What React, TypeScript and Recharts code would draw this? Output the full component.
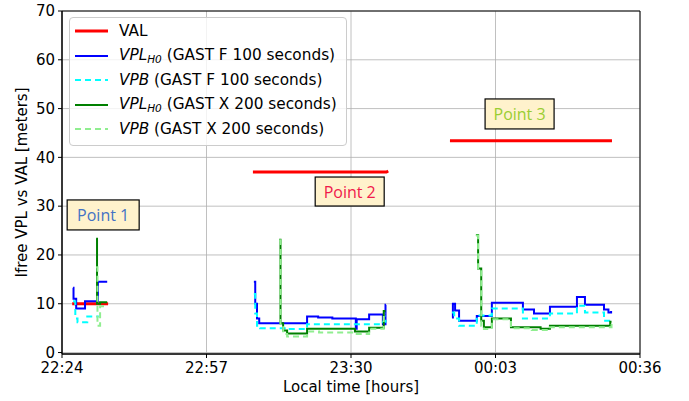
import React from 'react';
import { ComposedChart, Line, XAxis, YAxis, CartesianGrid, ReferenceArea, ReferenceDot } from 'recharts';

// time in minutes after 22:24
const valSeries = [
  { t: 2.33, v: 10 }, { t: 10.53, v: 10 }, { t: 20, v: null },
  { t: 43.6, v: 37 }, { t: 74.1, v: 37 }, { t: 74.5, v: 37.2 }, { t: 80, v: null },
  { t: 88.6, v: 43.4 }, { t: 125.6, v: 43.4 },
];
const vplF = [
  { t: 2.53, v: 13.3 }, { t: 2.63, v: 11 }, { t: 3.24, v: 9 }, { t: 5.26, v: 10.5 }, { t: 8.2, v: 14.5 }, { t: 10.32, v: 14.5 }, { t: 20, v: null },
  { t: 43.82, v: 14.5 }, { t: 44.13, v: 10 }, { t: 44.53, v: 7 }, { t: 45.04, v: 6 }, { t: 51.62, v: 6 }, { t: 55.97, v: 7.4 }, { t: 58.5, v: 7.2 }, { t: 61.74, v: 7.0 }, { t: 67.1, v: 4.9 }, { t: 67.3, v: 6.8 }, { t: 70.14, v: 7.8 }, { t: 73.28, v: 5.8 }, { t: 73.88, v: 9.8 }, { t: 73.98, v: 9.8 }, { t: 80, v: null },
  { t: 89.06, v: 7.2 }, { t: 89.27, v: 10 }, { t: 89.77, v: 8.6 }, { t: 90.68, v: 6.5 }, { t: 94.73, v: 7.5 }, { t: 98.17, v: 10.2 }, { t: 105.26, v: 8.8 }, { t: 107.79, v: 8.0 }, { t: 111.43, v: 9.4 }, { t: 117.6, v: 11.4 }, { t: 119.43, v: 9.8 }, { t: 123.78, v: 8.8 }, { t: 124.79, v: 8.2 }, { t: 125.4, v: 8.5 },
];
const vpbF = [
  { t: 2.53, v: 10.5 }, { t: 3.04, v: 7 }, { t: 3.54, v: 6.2 }, { t: 5.77, v: 7.4 }, { t: 8.4, v: 7.4 }, { t: 20, v: null },
  { t: 43.82, v: 12 }, { t: 44.13, v: 8 }, { t: 44.53, v: 5.5 }, { t: 45.24, v: 5 }, { t: 51.62, v: 4.8 }, { t: 55.97, v: 5.8 }, { t: 73.28, v: 6.3 }, { t: 73.88, v: 7.5 }, { t: 73.98, v: 7.5 }, { t: 80, v: null },
  { t: 89.06, v: 8.2 }, { t: 89.57, v: 7 }, { t: 90.68, v: 5.5 }, { t: 94.73, v: 7.6 }, { t: 98.17, v: 9 }, { t: 105.26, v: 7.0 }, { t: 111.43, v: 8.0 }, { t: 117.6, v: 9.6 }, { t: 119.43, v: 8.2 }, { t: 123.78, v: 6.5 }, { t: 125.4, v: 6.5 },
];
const vplX = [
  { t: 7.79, v: 23.3 }, { t: 8.0, v: 10 }, { t: 8.7, v: 10.3 }, { t: 10.32, v: 10.3 }, { t: 20, v: null },
  { t: 49.59, v: 23.1 }, { t: 49.9, v: 6 }, { t: 50.5, v: 4.5 }, { t: 51.41, v: 3.9 }, { t: 55.97, v: 4.9 }, { t: 66.9, v: 4.3 }, { t: 70.14, v: 5.1 }, { t: 73.48, v: 8.5 }, { t: 73.88, v: 8.5 }, { t: 80, v: null },
  { t: 94.53, v: 24.1 }, { t: 95.03, v: 17.2 }, { t: 95.74, v: 6.5 }, { t: 96.35, v: 5.2 }, { t: 98.17, v: 7.0 }, { t: 102.53, v: 5.2 }, { t: 109.3, v: 4.9 }, { t: 111.43, v: 5.5 }, { t: 125.2, v: 6.3 }, { t: 125.5, v: 6.3 },
];
const vpbX = [
  { t: 7.79, v: 17.5 }, { t: 8.1, v: 5.5 }, { t: 8.7, v: 9.5 }, { t: 10.32, v: 9.5 }, { t: 20, v: null },
  { t: 49.59, v: 23 }, { t: 49.9, v: 5.5 }, { t: 50.5, v: 3.8 }, { t: 51.41, v: 3.3 }, { t: 55.97, v: 4.3 }, { t: 58.7, v: 4.1 }, { t: 66.9, v: 3.8 }, { t: 70.14, v: 4.9 }, { t: 73.48, v: 8.0 }, { t: 73.88, v: 8.0 }, { t: 80, v: null },
  { t: 94.53, v: 24 }, { t: 95.03, v: 17 }, { t: 95.74, v: 5.5 }, { t: 96.35, v: 4.8 }, { t: 98.17, v: 6.8 }, { t: 102.53, v: 5.0 }, { t: 107.28, v: 4.6 }, { t: 111.43, v: 5.2 }, { t: 125.2, v: 5.2 }, { t: 125.5, v: 6.0 },
];

const xTicks = [0, 33, 66, 99, 132];
const yTicks = [0, 10, 20, 30, 40, 50, 60, 70];
const annotations = [
  { t: 9.4, v: 28.2, text: 'Point 1', color: '#4472c4', w: 72, h: 30 },
  { t: 65.7, v: 33.0, text: 'Point 2', color: '#f0194b', w: 69, h: 29 },
  { t: 104.5, v: 48.9, text: 'Point 3', color: '#9acd32', w: 69, h: 30 },
];

const fmt = (m: number) => {
  const total = (22 * 60 + 24 + m) % 1440;
  const h = Math.floor(total / 60);
  const mm = Math.round(total % 60);
  return `${String(h).padStart(2, '0')}:${String(mm).padStart(2, '0')}`;
};

const FONT = 'DejaVu Sans';

const AnnotBox = (a: any) => (props: any) => {
  const { cx, cy } = props;
  return (
    <g>
      <rect x={cx - a.w / 2} y={cy - a.h / 2} width={a.w} height={a.h} fill="#fff2cc" stroke="#000" strokeWidth={1.2} />
      <text x={cx} y={cy} textAnchor="middle" dominantBaseline="central" fontFamily="Open Sans" fontSize={16} fill={a.color}>{a.text}</text>
    </g>
  );
};

const subStyle: React.CSSProperties = { fontSize: 10.5, fontStyle: 'italic', verticalAlign: -3 };

const legendItems = [
  { color: '#ff0000', dash: undefined, w: 3, label: <span>VAL</span> },
  { color: '#0000ff', dash: undefined, w: 2, label: <span><i>VPL</i><sub style={subStyle}>H0</sub> (GAST F 100 seconds)</span> },
  { color: '#00ffff', dash: '6 4', w: 2, label: <span><i>VPB</i> (GAST F 100 seconds)</span> },
  { color: '#008000', dash: undefined, w: 2, label: <span><i>VPL</i><sub style={subStyle}>H0</sub> (GAST X 200 seconds)</span> },
  { color: '#90ee90', dash: '6 4', w: 2, label: <span><i>VPB</i> (GAST X 200 seconds)</span> },
];

export default function App() {
  return (
    <div style={{ position: 'absolute', left: 0, top: 0, width: 689, height: 401, background: '#fff' }}>
      <ComposedChart width={689} height={401} margin={{ top: 11, right: 49, left: 0, bottom: 0 }}>
        <CartesianGrid stroke="#b0b0b0" strokeWidth={0.8} />
        <XAxis
          type="number"
          dataKey="t"
          domain={[0, 132]}
          ticks={xTicks}
          tickFormatter={fmt}
          height={47}
          tickSize={4}
          tickMargin={4}
          stroke="#000"
          tick={{ fontSize: 15, fill: '#000', fontFamily: FONT }}
          allowDataOverflow
          label={(p: any) => {
            const vb = p.viewBox;
            return <text x={vb.x + vb.width / 2} y={vb.y + 38} textAnchor="middle" fontSize={15} fontFamily={FONT} fill="#000">Local time [hours]</text>;
          }}
        />
        <YAxis
          type="number"
          domain={[-0.3, 70]}
          ticks={yTicks}
          width={62}
          tickSize={4}
          tickMargin={3}
          stroke="#000"
          tick={{ fontSize: 15, fill: '#000', fontFamily: FONT }}
          allowDataOverflow
          label={(p: any) => {
            const vb = p.viewBox;
            const x = 22;
            const y = vb.y + vb.height / 2;
            return <text x={x} y={y} transform={`rotate(-90 ${x} ${y})`} textAnchor="middle" dominantBaseline="central" fontSize={15} fontFamily={FONT} fill="#000">Ifree VPL vs VAL [meters]</text>;
          }}
        />
        <ReferenceArea x1={0} x2={132} y1={-0.3} y2={70} fill="none" stroke="#000" strokeWidth={1} ifOverflow="visible" />
        <Line data={valSeries} dataKey="v" type="linear" stroke="#ff0000" strokeWidth={3} dot={false} isAnimationActive={false} connectNulls={false} />
        <Line data={vplF} dataKey="v" type="stepAfter" stroke="#0000ff" strokeWidth={2} dot={false} isAnimationActive={false} connectNulls={false} />
        <Line data={vpbF} dataKey="v" type="stepAfter" stroke="#00ffff" strokeWidth={2} strokeDasharray="6 4" dot={false} isAnimationActive={false} connectNulls={false} />
        <Line data={vplX} dataKey="v" type="stepAfter" stroke="#008000" strokeWidth={2} dot={false} isAnimationActive={false} connectNulls={false} />
        <Line data={vpbX} dataKey="v" type="stepAfter" stroke="#90ee90" strokeWidth={2} strokeDasharray="6 4" dot={false} isAnimationActive={false} connectNulls={false} />
        {annotations.map((a) => (
          <ReferenceDot key={a.text} x={a.t} y={a.v} r={0} ifOverflow="visible" shape={AnnotBox(a)} />
        ))}
      </ComposedChart>
      <div
        style={{
          position: 'absolute', left: 69, top: 17, width: 278, height: 129, boxSizing: 'border-box',
          border: '1px solid #cccccc', borderRadius: 4, background: 'rgba(255,255,255,0.8)',
          fontFamily: FONT, fontSize: 15.3, color: '#000', paddingTop: 1,
        }}
      >
        {legendItems.map((it, i) => (
          <div key={i} style={{ height: 24.5, display: 'flex', alignItems: 'center', whiteSpace: 'nowrap' }}>
            <svg width={49} height={10} style={{ flex: 'none' }}>
              <line x1={5} x2={38} y1={5} y2={5} stroke={it.color} strokeWidth={it.w} strokeDasharray={it.dash} />
            </svg>
            {it.label}
          </div>
        ))}
      </div>
    </div>
  );
}
